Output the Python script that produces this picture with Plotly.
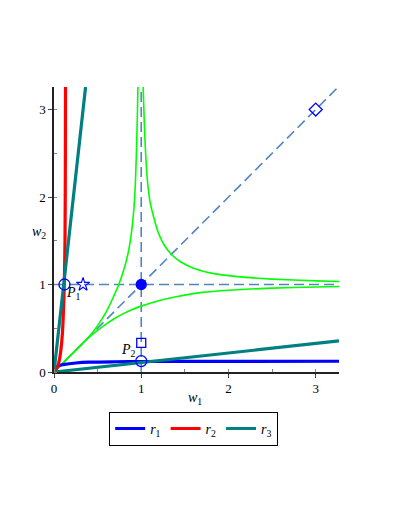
import plotly.graph_objects as go

# ---- data ----
r1_w1 = [0, 0.01, 0.03, 0.06, 0.12, 0.25, 0.4, 0.7, 1.0, 2.0, 3.267]
r1_w2 = [0, 0.035, 0.06, 0.075, 0.088, 0.103, 0.112, 0.117, 0.12, 0.122, 0.123]

r2_w1 = [0, 0.025, 0.045, 0.06, 0.075, 0.09, 0.1, 0.11, 0.118, 0.126, 0.13, 0.132]
r2_w2 = [0, 0.03, 0.07, 0.13, 0.22, 0.36, 0.5, 0.74, 1.0, 1.5, 2.3, 3.258]

r3_w1 = [0.362, 0, 3.267]
r3_w2 = [3.258, 0, 0.355]

gA_w1 = [0, 0.2, 0.4, 0.5, 0.6, 0.7, 0.75, 0.8, 0.85, 0.895, 0.925, 0.943, 0.955, 0.962]
gA_w2 = [0, 0.2, 0.4, 0.53, 0.69, 0.9, 1.02, 1.17, 1.36, 1.65, 2.0, 2.45, 2.9, 3.258]

gB_w1 = [0, 0.2, 0.4, 0.5, 0.6, 0.7, 0.8, 0.9, 1.0, 1.2, 1.4, 1.7, 2.0, 2.5, 3.0, 3.267]
gB_w2 = [0, 0.2, 0.395, 0.475, 0.55, 0.615, 0.67, 0.715, 0.753, 0.815, 0.86, 0.91, 0.935, 0.959, 0.972, 0.978]

gC_w1 = [1.022, 1.035, 1.05, 1.07, 1.1, 1.14, 1.2, 1.27, 1.35, 1.45, 1.6, 1.8, 2.1, 2.5, 3.0, 3.267]
gC_w2 = [3.258, 2.85, 2.5, 2.2, 1.95, 1.78, 1.58, 1.44, 1.34, 1.26, 1.185, 1.13, 1.09, 1.062, 1.042, 1.035]

hline_w1 = [0, 3.267]
hline_w2 = [1, 1]
vline_w1 = [1, 1]
vline_w2 = [0, 3.258]
diag_w1 = [0, 3.258]
diag_w2 = [0, 3.258]

P1 = (0.12, 1.0)
P2 = (1.0, 0.125)
star_pt = (0.333, 1.0)
square_pt = (1.0, 0.334)
diamond_pt = (3.0, 3.0)
center_pt = (1.0, 1.0)

x_ticks = [0, 1, 2, 3]
y_ticks = [0, 1, 2, 3]

FONT = "Liberation Serif"
DASH_COL = "#4F86BE"
MK_COL = "#0000FF"

fig = go.Figure()

# dashed guide lines
for xs, ys in [(hline_w1, hline_w2), (vline_w1, vline_w2), (diag_w1, diag_w2)]:
    fig.add_trace(go.Scatter(x=xs, y=ys, mode="lines", showlegend=False,
                             line=dict(color=DASH_COL, width=1.6, dash="10px,5px"),
                             hoverinfo="skip"))

# green curves
for xs, ys in [(gA_w1, gA_w2), (gB_w1, gB_w2), (gC_w1, gC_w2)]:
    fig.add_trace(go.Scatter(x=xs, y=ys, mode="lines", showlegend=False,
                             line=dict(color="#00FF00", width=1.6, shape="spline", smoothing=0.6),
                             hoverinfo="skip"))

# reaction curves
fig.add_trace(go.Scatter(x=r1_w1, y=r1_w2, mode="lines", name="<i>r</i><sub>1</sub>",
                         line=dict(color="#0000FF", width=3.2, shape="spline", smoothing=0.6)))
fig.add_trace(go.Scatter(x=r2_w1, y=r2_w2, mode="lines", name="<i>r</i><sub>2</sub>",
                         line=dict(color="#FF0000", width=3.2, shape="spline", smoothing=0.6)))
fig.add_trace(go.Scatter(x=r3_w1, y=r3_w2, mode="lines", name="<i>r</i><sub>3</sub>",
                         line=dict(color="#008080", width=3.2)))

# markers
def mk(pt, symbol, size, width=1.3):
    fig.add_trace(go.Scatter(x=[pt[0]], y=[pt[1]], mode="markers", showlegend=False,
                             marker=dict(symbol=symbol, size=size, color=MK_COL,
                                         line=dict(color=MK_COL, width=width))))

mk(P1, "circle-open", 11)
mk(P2, "circle-open", 11)
mk(star_pt, "star-open", 10, 1.1)
mk(square_pt, "square-open", 9)
mk(diamond_pt, "diamond-open", 10)
mk(center_pt, "circle", 10)

# point labels
fig.add_annotation(x=0.22, y=0.9, text="<i>P</i><sub>1</sub>", showarrow=False,
                   font=dict(family=FONT, size=14, color="black"))
fig.add_annotation(x=0.85, y=0.245, text="<i>P</i><sub>2</sub>", showarrow=False,
                   font=dict(family=FONT, size=14, color="black"))

# axis titles
fig.add_annotation(xref="paper", yref="paper", x=0.495, y=-0.13, text="<i>w</i><sub>1</sub>",
                   showarrow=False, font=dict(family=FONT, size=14, color="black"))
fig.add_annotation(xref="paper", yref="paper", x=-0.085, y=0.49, text="<i>w</i><sub>2</sub>",
                   showarrow=False, font=dict(family=FONT, size=14, color="black"))

axis_common = dict(showgrid=False, zeroline=False, showline=True, linecolor="#222",
                   linewidth=1.5, ticks="outside", ticklen=4, tickcolor="#444",
                   tickfont=dict(family=FONT, size=13, color="black"),
                   minor=dict(ticks="inside", ticklen=3, dtick=0.5, tickcolor="#888"))

fig.update_layout(
    width=405, height=524,
    margin=dict(l=46, r=74, t=79, b=160),
    paper_bgcolor="white", plot_bgcolor="white",
    xaxis=dict(range=[0, 3.267], tickvals=x_ticks, **axis_common),
    yaxis=dict(range=[0, 3.258], tickvals=y_ticks, **axis_common),
    legend=dict(orientation="h", x=0.49, xanchor="center", y=-0.14, yanchor="top",
                bordercolor="black", borderwidth=1, font=dict(family=FONT, size=14, color="black"),
                itemwidth=30, tracegroupgap=0),
    showlegend=True,
)

fig.write_html("out.html")
